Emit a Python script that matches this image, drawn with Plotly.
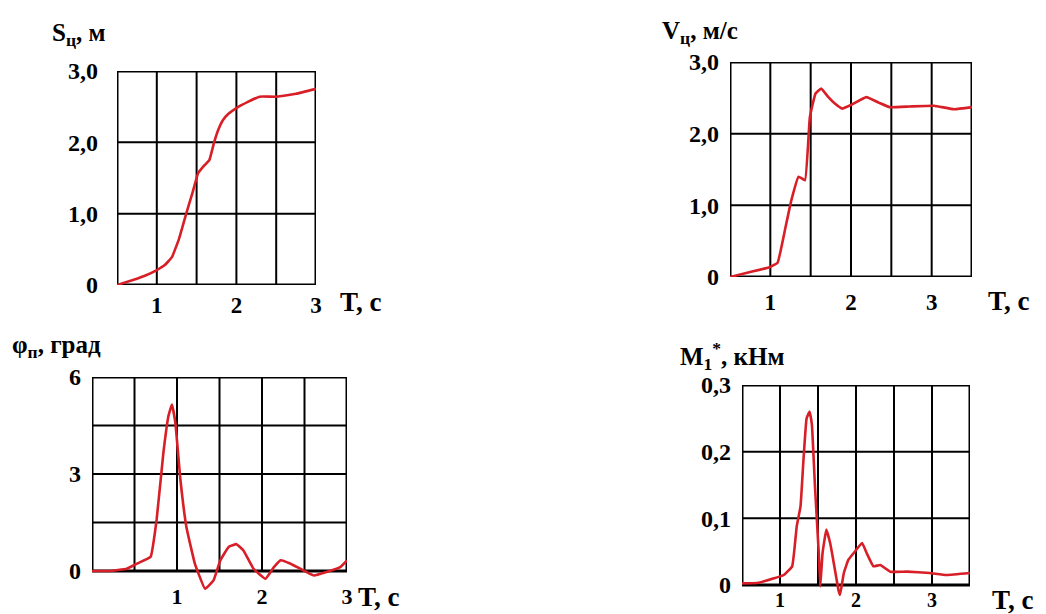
import plotly.graph_objects as go

W, H = 1046, 614

# ---- data ----
s_t = [0.5, 0.7, 0.85, 1.0, 1.1, 1.19, 1.28, 1.37, 1.45, 1.52, 1.6, 1.66, 1.72, 1.77, 1.83, 1.9, 2.0, 2.15, 2.29, 2.5, 2.75, 3.0]
s_val = [0, 0.07, 0.13, 0.21, 0.28, 0.39, 0.65, 1.0, 1.3, 1.57, 1.68, 1.75, 2.0, 2.17, 2.31, 2.4, 2.48, 2.57, 2.64, 2.64, 2.68, 2.75]

v_t = [0.5, 0.75, 1.0, 1.09, 1.18, 1.26, 1.35, 1.43, 1.49, 1.56, 1.63, 1.72, 1.8, 1.89, 2.0, 2.19, 2.35, 2.48, 2.73, 3.03, 3.28, 3.5]
v_val = [0, 0.07, 0.14, 0.2, 0.65, 1.07, 1.4, 1.35, 2.23, 2.56, 2.63, 2.51, 2.42, 2.35, 2.4, 2.51, 2.43, 2.37, 2.38, 2.39, 2.34, 2.37]

phi_t = [0, 0.2, 0.41, 0.53, 0.69, 0.76, 0.84, 0.90, 0.94, 0.98, 1.04, 1.11, 1.21, 1.33, 1.43, 1.51, 1.61, 1.70, 1.78, 1.90, 2.04, 2.14, 2.22, 2.33, 2.45, 2.61, 2.76, 2.92, 3.0]
phi_val = [0, 0, 0.07, 0.23, 0.44, 1.58, 3.66, 4.8, 5.15, 4.6, 2.83, 1.37, 0.23, -0.55, -0.29, 0.33, 0.75, 0.83, 0.64, 0.07, -0.24, 0.12, 0.33, 0.23, 0.07, -0.14, -0.03, 0.12, 0.33]

m_t = [0.5, 0.7, 0.92, 1.05, 1.16, 1.22, 1.27, 1.31, 1.35, 1.39, 1.42, 1.46, 1.51, 1.53, 1.56, 1.61, 1.66, 1.70, 1.77, 1.79, 1.84, 1.90, 1.97, 2.08, 2.14, 2.23, 2.32, 2.45, 2.67, 2.97, 3.19, 3.5]
m_val = [0.0025, 0.003, 0.01, 0.015, 0.028, 0.088, 0.118, 0.19, 0.25, 0.26, 0.24, 0.148, 0.048, -0.002, 0.048, 0.083, 0.063, 0.038, -0.008, -0.015, 0.018, 0.038, 0.048, 0.063, 0.048, 0.028, 0.03, 0.02, 0.02, 0.018, 0.015, 0.018]

x_ticks = [1, 2, 3]
y_ticks_s = [0, 1, 2, 3]
y_text_s = ["0", "1,0", "2,0", "3,0"]
y_ticks_phi = [0, 3, 6]
y_text_phi = ["0", "3", "6"]
y_ticks_m = [0, 0.1, 0.2, 0.3]
y_text_m = ["0", "0,1", "0,2", "0,3"]

titles = ["S<sub>ц</sub>, м", "V<sub>ц</sub>, м/с", "φ<sub>п</sub>, град",
          "M<sub>1</sub><sup>*</sup>, кНм"]
x_title = "T, с"

RED = "#d81e26"
FONT = "Liberation Serif"

panels = [
    dict(t=s_t, v=s_val, xr=(0.5, 3.0), ymax=3.0, ylo=0.0, box=(117, 316, 71, 285),
         xgrid=[0.5, 1, 1.5, 2, 2.5, 3], ygrid=[0, 1, 2, 3], yt=y_ticks_s, ytext=y_text_s,
         title=titles[0], title_pos=(50, 34), xt_pos=(338, 302), xstand=4, ystand=18, xfs=23),
    dict(t=v_t, v=v_val, xr=(0.5, 3.5), ymax=3.0, ylo=0.0, box=(730, 972, 62, 277),
         xgrid=[0.5, 1, 1.5, 2, 2.5, 3, 3.5], ygrid=[0, 1, 2, 3], yt=y_ticks_s, ytext=y_text_s,
         title=titles[1], title_pos=(660, 32), xt_pos=(986, 301), xstand=9, ystand=10, xfs=23),
    dict(t=phi_t, v=phi_val, xr=(0.0, 3.0), ymax=6.0, ylo=-0.7, box=(92, 347, 377, 571),
         xgrid=[0, 0.5, 1, 1.5, 2, 2.5, 3], ygrid=[0, 1.5, 3, 4.5, 6], yt=y_ticks_phi, ytext=y_text_phi,
         title=titles[2], title_pos=(10, 346), xt_pos=(356, 597), xstand=10, ystand=10, xfs=22),
    dict(t=m_t, v=m_val, xr=(0.5, 3.5), ymax=0.3, ylo=-0.025, box=(742, 970, 385, 585),
         xgrid=[0.5, 1, 1.5, 2, 2.5, 3, 3.5], ygrid=[0, 0.1, 0.2, 0.3], yt=y_ticks_m, ytext=y_text_m,
         title=titles[3], title_pos=(678, 356), xt_pos=(990, 600), xstand=1, ystand=10, xfs=20),
]

fig = go.Figure()
shapes = []
annotations = []
layout = {}

for i, p in enumerate(panels, start=1):
    xs = "" if i == 1 else str(i)
    xa, ya = "x" + xs, "y" + xs
    x0, x1, ytop, ybot = p["box"]
    ppu = (ybot - ytop) / p["ymax"]          # pixels per y unit
    ybottom_px = ybot - p["ylo"] * ppu        # extend below zero for dips
    xdom = [x0 / W, x1 / W]
    ydom = [1 - ybottom_px / H, 1 - ytop / H]

    fig.add_trace(go.Scatter(x=p["t"], y=p["v"], mode="lines", xaxis=xa, yaxis=ya,
                             line=dict(color=RED, width=2.6, shape="spline", smoothing=0.3),
                             showlegend=False, hoverinfo="skip"))

    layout["xaxis" + xs] = dict(domain=xdom, range=list(p["xr"]), anchor="free",
                                position=1 - ybot / H, showgrid=False, zeroline=False,
                                showline=False, ticks="", tickvals=x_ticks, automargin=False,
                                ticklabelstandoff=p["xstand"],
                                tickfont=dict(family=FONT, size=p["xfs"], color="black", weight="bold"))
    layout["yaxis" + xs] = dict(domain=ydom, range=[p["ylo"], p["ymax"]], anchor=xa,
                                showgrid=False, zeroline=False, showline=False, ticks="",
                                tickvals=p["yt"], ticktext=p["ytext"], automargin=False,
                                ticklabelstandoff=p["ystand"],
                                tickfont=dict(family=FONT, size=24, color="black", weight="bold"))

    # grid lines and frame
    for gx in p["xgrid"]:
        shapes.append(dict(type="line", xref=xa, yref=ya, x0=gx, x1=gx, y0=0, y1=p["ymax"],
                           line=dict(color="black", width=2), layer="below"))
    for gy in p["ygrid"]:
        shapes.append(dict(type="line", xref=xa, yref=ya, x0=p["xr"][0], x1=p["xr"][1], y0=gy, y1=gy,
                           line=dict(color="black", width=2), layer="below"))
    shapes.append(dict(type="rect", xref=xa, yref=ya, x0=p["xr"][0], x1=p["xr"][1], y0=0, y1=p["ymax"],
                       line=dict(color="black", width=3), layer="below"))

    annotations.append(dict(text=p["title"], xref="paper", yref="paper",
                            x=p["title_pos"][0] / W, y=1 - p["title_pos"][1] / H,
                            xanchor="left", yanchor="middle", showarrow=False,
                            font=dict(family=FONT, size=25, color="black", weight="bold")))
    annotations.append(dict(text=x_title, xref="paper", yref="paper",
                            x=p["xt_pos"][0] / W, y=1 - p["xt_pos"][1] / H,
                            xanchor="left", yanchor="middle", showarrow=False,
                            font=dict(family=FONT, size=27, color="black", weight="bold")))

fig.update_layout(width=W, height=H, margin=dict(l=0, r=0, t=0, b=0),
                  paper_bgcolor="white", plot_bgcolor="rgba(0,0,0,0)",
                  shapes=shapes, annotations=annotations, **layout)

fig.write_html("out.html", config={"displayModeBar": False},
               post_script="document.body.style.margin='0';document.body.style.overflow='hidden';")
